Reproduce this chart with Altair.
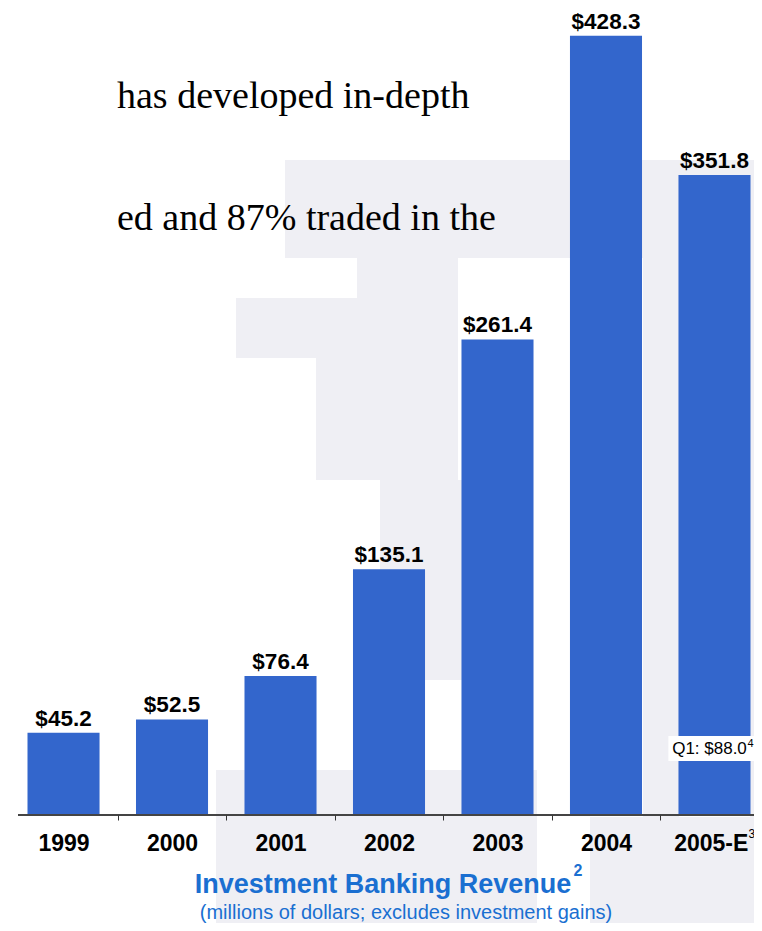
import altair as alt
import pandas as pd

# ---- data ----
years = ["1999", "2000", "2001", "2002", "2003", "2004", "2005-E"]
revenue = [45.2, 52.5, 76.4, 135.1, 261.4, 428.3, 351.8]
q1_text = ["Q1: $88.0"]
q1_year = ["2005-E"]
body_lines = ["has developed in-depth", "ed and 87% traded in the"]
title_text = "Investment Banking Revenue"
subtitle_text = "(millions of dollars; excludes investment gains)"

# faint background watermark blocks (decoration, pixel boxes in the view)
wm_x0 = [269, 341, 220, 300, 364, 200, 574, 627, 734]
wm_x1 = [746, 442, 442, 442, 448, 521, 746, 663, 746]
wm_y0 = [152, 250, 290, 350, 472, 762, 809, 152, 152]
wm_y1 = [250, 290, 350, 472, 672, 923, 923, 923, 923]

NARROW = "Liberation Sans, Arial, sans-serif"
SERIF = "Liberation Serif, Times New Roman, serif"
BAR = "#3366CC"
TBLUE = "#1A6FD1"
WM = "#EFEFF4"

df = pd.DataFrame({"year": years, "revenue": revenue})
wm = pd.DataFrame({"x0": wm_x0, "x1": wm_x1, "y0": wm_y0, "y1": wm_y1})

xscale = alt.Scale(domain=years, paddingInner=0.336, paddingOuter=0.0691, align=0.767)
yscale = alt.Scale(domain=[0, 443.6], nice=False, zero=True)

xaxis = alt.Axis(
    title=None, domain=False, grid=False, ticks=True, tickSize=5, tickColor="#333",
    tickWidth=1, tickOffset=54.25,
    labelOffset={"condition": {"test": "datum.label == '2005-E'", "value": -58},
                 "value": -54.25},
    labelAngle=0,
    labelFont=NARROW, labelFontSize=23, labelFontWeight="bold", labelColor="black",
    labelBaseline="middle", labelPadding=23, zindex=1,
)

watermark = alt.Chart(wm).mark_rect(color=WM).encode(
    x=alt.X("x0:Q", scale=None), x2="x1:Q",
    y=alt.Y("y0:Q", scale=None), y2="y1:Q",
)

base = alt.Chart(df)

bars = base.mark_bar(color=BAR).encode(
    x=alt.X("year:N", scale=xscale, axis=xaxis),
    y=alt.Y("revenue:Q", scale=yscale, axis=None),
)

values = base.transform_calculate(
    label="'$' + format(datum.revenue, '.1f')"
).mark_text(font=NARROW, fontSize=22.5, fontWeight="bold", color="black",
            baseline="alphabetic", dy=-7).encode(
    x=alt.X("year:N", scale=xscale),
    y=alt.Y("revenue:Q", scale=yscale),
    text="label:N",
)

baseline = alt.Chart(pd.DataFrame({"k": [0]})).mark_rule(color="#444", strokeWidth=2).encode(
    x=alt.value(2), x2=alt.value(738), y=alt.value(807)
)

q1df = pd.DataFrame({"year": q1_year, "t": q1_text})
q1box = alt.Chart(q1df).mark_bar(color="white", width=alt.RelativeBandSize(1.28)).encode(
    x=alt.X("year:N", scale=xscale), y=alt.value(728), y2=alt.value(753)
)
q1label = alt.Chart(q1df).mark_text(font=NARROW, fontSize=17, color="black",
                                    baseline="middle", dx=-5).encode(
    x=alt.X("year:N", scale=xscale), y=alt.value(741), text="t:N"
)
q1sup = alt.Chart(q1df).mark_text(font=NARROW, fontSize=11, color="black", align="left",
                                  baseline="middle", dx=33).encode(
    x=alt.X("year:N", scale=xscale), y=alt.value(736), text=alt.value("4")
)
e_sup = alt.Chart(q1df).mark_text(font=NARROW, fontSize=12, color="black", align="left",
                                  baseline="middle", dx=34).encode(
    x=alt.X("year:N", scale=xscale), y=alt.value(826), text=alt.value("3")
)

bodydf = pd.DataFrame({"t": body_lines})
body1 = alt.Chart(bodydf.iloc[[0]]).mark_text(font=SERIF, fontSize=38, color="black",
                                              align="left", baseline="alphabetic").encode(
    x=alt.value(101), y=alt.value(100), text="t:N"
)
body2 = alt.Chart(bodydf.iloc[[1]]).mark_text(font=SERIF, fontSize=38, color="black",
                                              align="left", baseline="alphabetic").encode(
    x=alt.value(101), y=alt.value(222), text="t:N"
)

tdf = pd.DataFrame({"t": [title_text], "s": [subtitle_text]})
title = alt.Chart(tdf).mark_text(font=NARROW, fontSize=27, fontWeight="bold", color=TBLUE,
                                 baseline="middle").encode(
    x=alt.value(367), y=alt.value(877), text="t:N"
)
title_sup = alt.Chart(tdf).mark_text(font=NARROW, fontSize=16, fontWeight="bold", color=TBLUE,
                                     baseline="middle").encode(
    x=alt.value(562), y=alt.value(863), text=alt.value("2")
)
subtitle = alt.Chart(tdf).mark_text(font=NARROW, fontSize=20, color=TBLUE,
                                    baseline="middle").encode(
    x=alt.value(390), y=alt.value(905), text="s:N"
)

chart = alt.layer(
    watermark, body1, body2, bars, values, baseline, q1box, q1label, q1sup, e_sup,
    title, title_sup, subtitle,
).properties(
    width=738, height=807,
    autosize=alt.AutoSizeParams(type="none"),
    padding={"left": 8, "top": 0, "right": 0, "bottom": 108},
    background="white",
).configure_view(stroke=None)

chart.save("out.html", embed_options={"renderer": "svg", "actions": False})
